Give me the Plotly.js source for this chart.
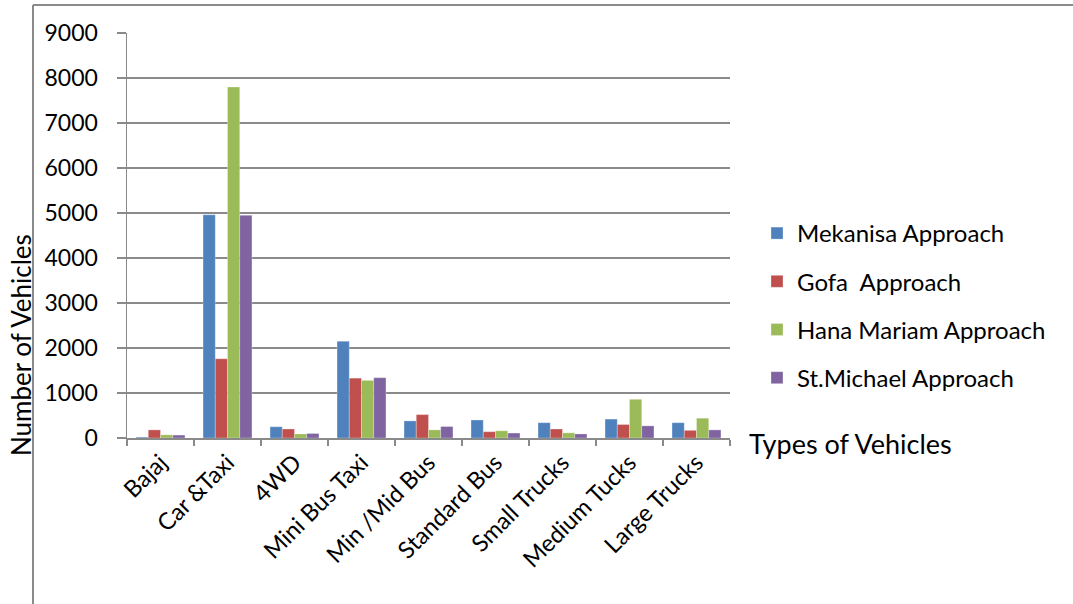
<!DOCTYPE html>
<html>
<head>
<meta charset="utf-8">
<script src="https://cdn.plot.ly/plotly-3.0.1.min.js"></script>
<style>
  html, body { margin: 0; padding: 0; background: #ffffff; }
  #chart { width: 1073px; height: 604px; }
</style>
</head>
<body>
<div id="chart"></div>
<script>
// Vehicle counts per approach, by vehicle type
const vehicleTypes = ["Bajaj", "Car &Taxi", "4WD", "Mini Bus Taxi", "Min /Mid Bus",
                      "Standard Bus", "Small Trucks", "Medium Tucks", "Large Trucks"];
const mekanisa   = [20, 4960, 250, 2150, 380, 400, 340, 420, 340];
const gofa       = [180, 1760, 200, 1330, 520, 140, 200, 300, 170];
const hanaMariam = [70, 7800, 90, 1280, 180, 160, 115, 860, 440];
const stMichael  = [65, 4950, 100, 1340, 255, 110, 90, 270, 180];

const seriesNames = ["Mekanisa Approach", "Gofa\u00a0 Approach", "Hana Mariam Approach", "St.Michael Approach"];
const seriesColors = ["#4F81BD", "#C0504D", "#9BBB59", "#8064A2"];
const seriesValues = [mekanisa, gofa, hanaMariam, stMichael];

const FONT = "Lato, 'Open Sans', sans-serif";
const AXIS_GRAY = "#8a8a8a";

const traces = seriesValues.map((vals, i) => ({
  type: "bar",
  name: seriesNames[i],
  x: vehicleTypes,
  y: vals,
  legendgroup: "g" + i,
  marker: { color: seriesColors[i], line: { color: "rgba(255,255,255,0.35)", width: 0.8 } },
  hoverinfo: "x+y+name"
}));

// plot area in pixels: x 127..730, y 33..438
const L = 127, R = 730, T = 33, B = 438;
const W = R - L, H = B - T;
const px = v => (v - L) / W;
const py = v => (B - v) / H;

const layout = {
  width: 1073,
  height: 604,
  margin: { l: L, r: 1073 - R, t: T, b: 604 - B, pad: 0 },
  paper_bgcolor: "#ffffff",
  plot_bgcolor: "#ffffff",
  font: { family: FONT, color: "#000000", size: 20 },
  barmode: "group",
  bargap: 0.27,
  bargroupgap: 0,
  showlegend: true,
  legend: {
    x: px(757), xanchor: "left",
    y: py(211), yanchor: "top",
    font: { family: FONT, size: 24, color: "#000000" },
    tracegroupgap: 14,
    itemwidth: 30,
    bgcolor: "rgba(0,0,0,0)"
  },
  xaxis: {
    type: "category",
    showgrid: false,
    showline: true,
    linecolor: AXIS_GRAY,
    linewidth: 1.5,
    ticks: "outside",
    tickson: "boundaries",
    ticklen: 6,
    tickcolor: AXIS_GRAY,
    tickwidth: 1.5,
    tickangle: -45,
    ticklabelstandoff: 0,
    tickfont: { family: FONT, size: 23.5, color: "#000000" },
    zeroline: false,
    fixedrange: true
  },
  yaxis: {
    range: [0, 9000],
    dtick: 1000,
    showgrid: true,
    gridcolor: AXIS_GRAY,
    gridwidth: 1.5,
    showline: true,
    linecolor: AXIS_GRAY,
    linewidth: 1.5,
    ticks: "outside",
    ticklen: 9,
    tickcolor: AXIS_GRAY,
    tickwidth: 1.5,
    ticklabelstandoff: 14,
    tickfont: { family: FONT, size: 23, color: "#000000" },
    zeroline: false,
    fixedrange: true
  },
  annotations: [
    {
      text: "Types of Vehicles",
      xref: "paper", yref: "paper",
      x: px(747), xanchor: "left",
      y: py(443), yanchor: "middle",
      showarrow: false,
      font: { family: FONT, size: 27, color: "#000000" }
    },
    {
      text: "Number of Vehicles",
      xref: "paper", yref: "paper",
      x: px(21), xanchor: "center",
      y: py(345), yanchor: "middle",
      textangle: -90,
      showarrow: false,
      font: { family: FONT, size: 26, color: "#000000" }
    }
  ],
  shapes: [
    // outer frame of the chart object
    { type: "line", xref: "paper", yref: "paper", x0: px(33), x1: px(33), y0: py(5), y1: py(610),
      line: { color: AXIS_GRAY, width: 2 } },
    { type: "line", xref: "paper", yref: "paper", x0: px(33), x1: px(1080), y0: py(5), y1: py(5),
      line: { color: AXIS_GRAY, width: 2 } }
  ]
};

Plotly.newPlot("chart", traces, layout, { displayModeBar: false, staticPlot: true });
</script>
</body>
</html>
